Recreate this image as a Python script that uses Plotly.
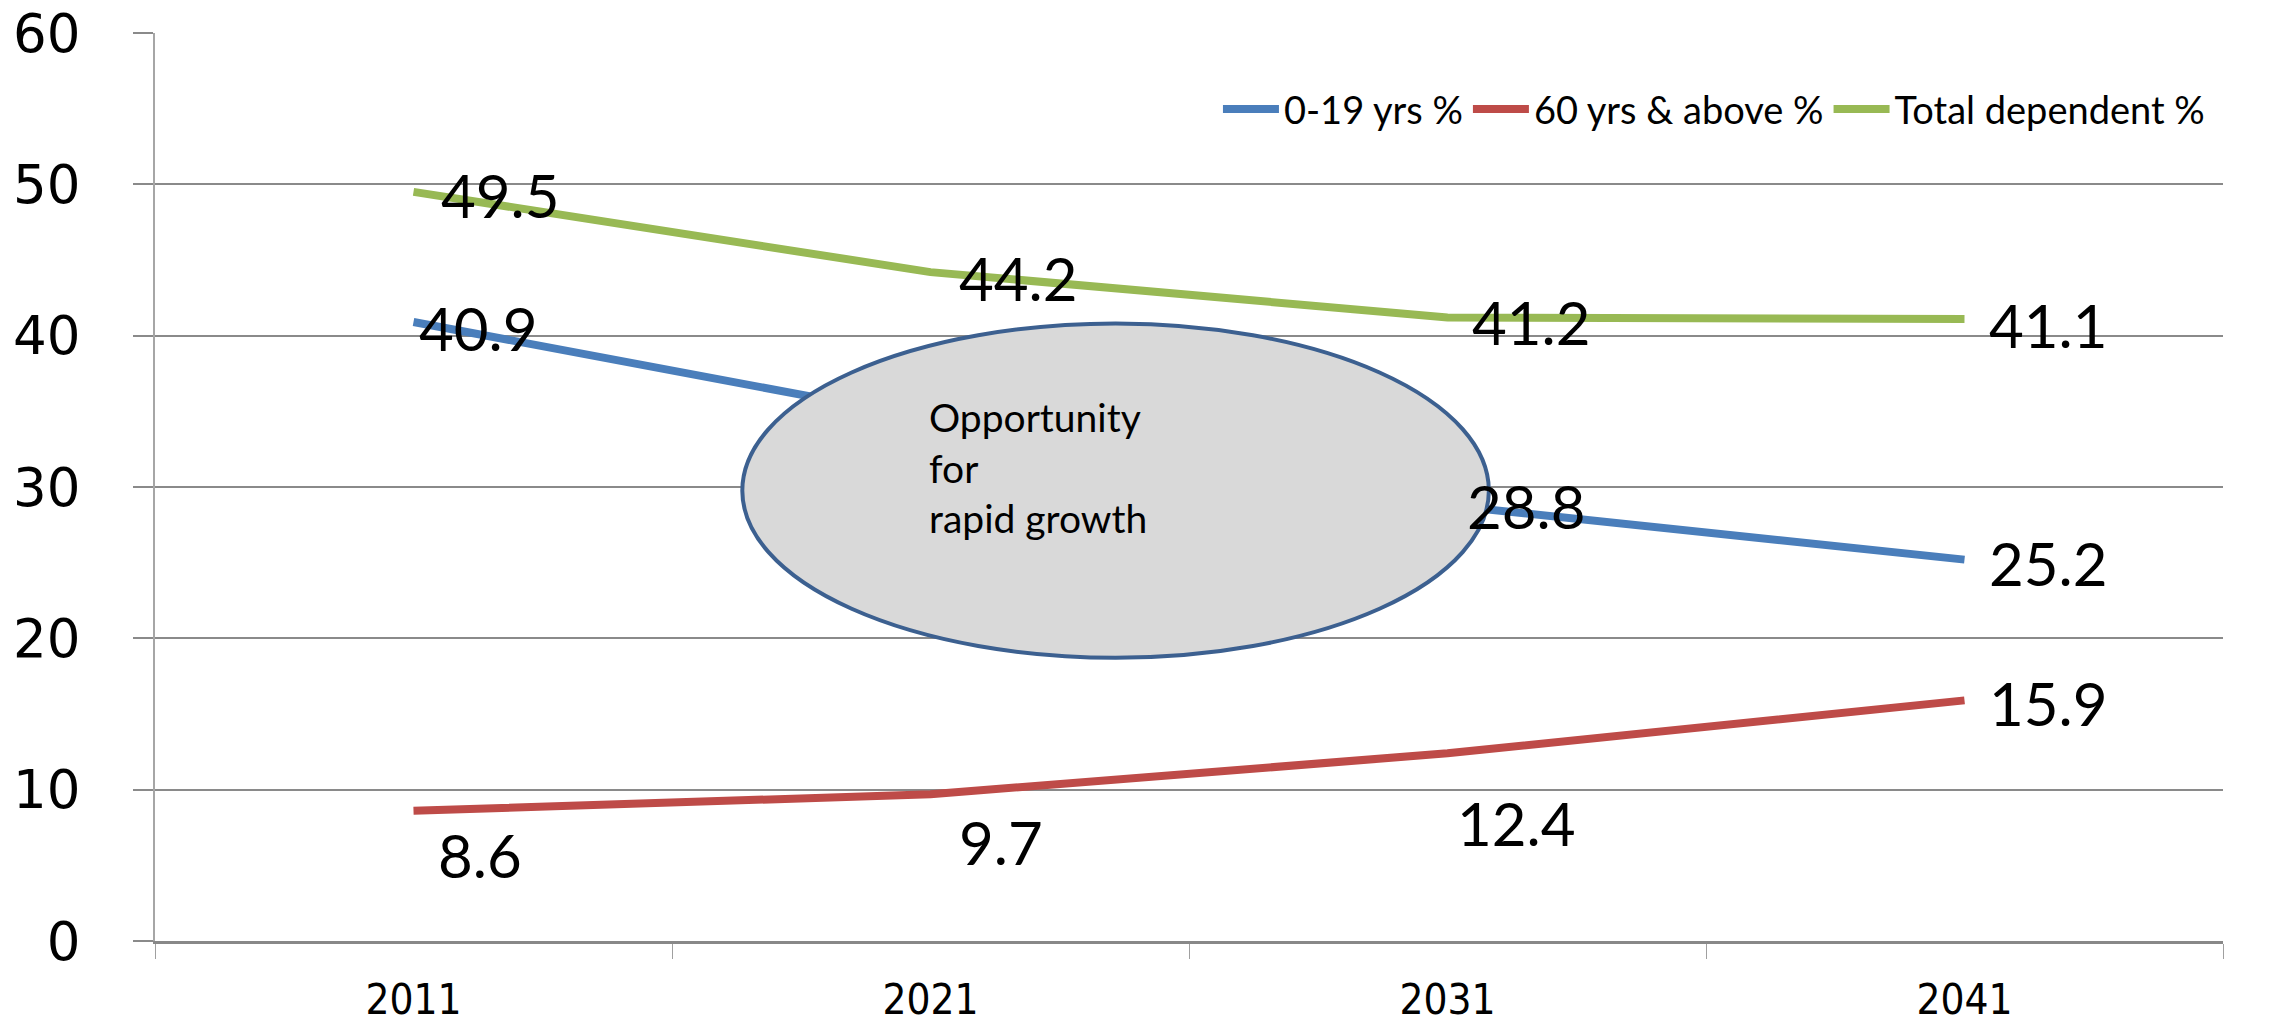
import plotly.graph_objects as go

years = ["2011", "2021", "2031", "2041"]
young = [40.9, 34.5, 28.8, 25.2]
old = [8.6, 9.7, 12.4, 15.9]
total = [49.5, 44.2, 41.2, 41.1]

y_ticks = [0, 10, 20, 30, 40, 50, 60]

BLUE = "#4a7ebb"
RED = "#be4b48"
GREEN = "#98b954"
GRID = "#8a8a8a"

fig = go.Figure()

series = [
    ("0-19 yrs %", young, BLUE),
    ("60 yrs & above %", old, RED),
    ("Total dependent %", total, GREEN),
]
for name, values, color in series:
    fig.add_trace(go.Scatter(
        name=name,
        x=years,
        y=values,
        mode="lines",
        line=dict(color=color, width=8),
    ))

# Data labels: (xshift, yshift) per point, as placed in the original
label_offsets = {
    "0-19 yrs %": [(3, -6), None, (17, -1), (22, -3)],  # 2021 value sits under the callout
    "60 yrs & above %": [(22, -44), (26, -48), (7, -70), (22, -3)],
    "Total dependent %": [(25, -3), (26, -6), (22, -4), (22, -6)],
}
for name, values, color in series:
    # category axis: annotations take the category index
    for i, (v, off) in enumerate(zip(values, label_offsets[name])):
        if off is None:
            continue
        fig.add_annotation(
            x=i, y=v, text=f"{v}",
            showarrow=False, xanchor="left", yanchor="middle",
            xshift=off[0], yshift=off[1],
            font=dict(family="Lato", size=60, color="black"),
        )

# Callout ellipse
fig.add_shape(
    type="circle", xref="paper", yref="paper",
    x0=0.284, x1=0.645, y0=0.312, y1=0.680,
    fillcolor="#d9d9d9", line=dict(color="#3c6090", width=4),
    layer="above",
)
fig.add_annotation(
    xref="paper", yref="paper", x=0.3733, y=0.521,
    text="Opportunity<br>for<br>rapid growth",
    showarrow=False, xanchor="left", yanchor="middle", align="left",
    font=dict(family="Lato", size=39, color="black"),
)

fig.update_xaxes(
    type="category",
    range=[-0.5, 3.5],
    automargin=False,
    showgrid=False,
    showline=True, linecolor="#888888", linewidth=3,
    ticks="outside", tickson="boundaries", ticklen=15,
    tickcolor="#a0a0a0", tickwidth=1,
    tickfont=dict(family="DejaVu Sans Condensed, Liberation Sans", size=42, color="black"),
    ticklabelstandoff=20,
)
fig.update_yaxes(
    range=[0, 60],
    tickvals=y_ticks,
    automargin=False,
    showgrid=True, gridcolor=GRID, gridwidth=1.5,
    zeroline=False,
    showline=True, linecolor="#a6a6a6", linewidth=2,
    ticks="outside", ticklen=20, tickcolor=GRID, tickwidth=1.5,
    tickfont=dict(family="DejaVu Sans", size=53, color="black"),
    ticklabelstandoff=42,
)

fig.update_layout(
    width=2271,
    height=1025,
    margin=dict(l=155, r=48, t=33, b=84),
    plot_bgcolor="white",
    paper_bgcolor="white",
    showlegend=True,
    legend=dict(
        orientation="h",
        x=0.514, xanchor="left",
        y=0.916, yanchor="middle",
        font=dict(family="Lato", size=38, color="black"),
        bgcolor="rgba(0,0,0,0)",
        itemwidth=56,
    ),
)

fig.write_html(
    "out.html",
    config={"displayModeBar": False},
    post_script="document.body.style.margin='0';",
)
